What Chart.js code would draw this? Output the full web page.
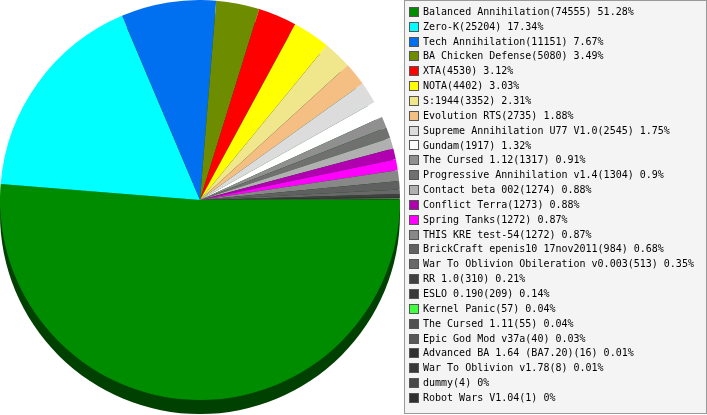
<!DOCTYPE html>
<html>
<head>
<meta charset="utf-8">
<script src="https://cdn.jsdelivr.net/npm/chart.js@4"></script>
<style>
    body { margin: 0; background: #fff; }
    #wrap { width: 707px; height: 415px; }
</style>
</head>
<body>
<div id="wrap"><canvas id="pie" width="707" height="415"></canvas></div>
<script>
// Game names, play counts and shares as printed in the legend
const games = [
    'Balanced Annihilation', 'Zero-K', 'Tech Annihilation', 'BA Chicken Defense',
    'XTA', 'NOTA', 'S:1944', 'Evolution RTS', 'Supreme Annihilation U77 V1.0',
    'Gundam', 'The Cursed 1.12', 'Progressive Annihilation v1.4', 'Contact beta 002',
    'Conflict Terra', 'Spring Tanks', 'THIS KRE test-54', 'BrickCraft epenis10 17nov2011',
    'War To Oblivion Obileration v0.003', 'RR 1.0', 'ESLO 0.190', 'Kernel Panic',
    'The Cursed 1.11', 'Epic God Mod v37a', 'Advanced BA 1.64 (BA7.20)',
    'War To Oblivion v1.78', 'dummy', 'Robot Wars V1.04'
];
const plays = [
    74555, 25204, 11151, 5080, 4530, 4402, 3352, 2735, 2545,
    1917, 1317, 1304, 1274, 1273, 1272, 1272, 984,
    513, 310, 209, 57, 55, 40, 16, 8, 4, 1
];
const shares = [
    '51.28%', '17.34%', '7.67%', '3.49%', '3.12%', '3.03%', '2.31%', '1.88%', '1.75%',
    '1.32%', '0.91%', '0.9%', '0.88%', '0.88%', '0.87%', '0.87%', '0.68%',
    '0.35%', '0.21%', '0.14%', '0.04%', '0.04%', '0.03%', '0.01%', '0.01%', '0%', '0%'
];
const colors = [
    '#008c00', '#00ffff', '#0070f0', '#6e8c00', '#ff0000', '#ffff00', '#f0e68c', '#f5be82', '#dcdcdc',
    '#ffffff', '#909090', '#707070', '#b0b0b0', '#b000b0', '#ff00ff', '#888888', '#606060',
    '#686868', '#404040', '#383838', '#40ff40', '#505050', '#585858', '#303030',
    '#383838', '#484848', '#303030'
];

// 3D-ish dark rim under the pie
const rimPlugin = {
    id: 'rim',
    beforeDatasetsDraw(chart) {
        const arc = chart.getDatasetMeta(0).data[0];
        if (!arc) return;
        const ctx = chart.ctx;
        ctx.save();
        ctx.fillStyle = '#004000';
        ctx.beginPath();
        ctx.arc(arc.x, arc.y + 14, arc.outerRadius, 0, Math.PI * 2);
        ctx.fill();
        ctx.restore();
    }
};

// Boxed legend on the right
const boxLegend = {
    id: 'boxLegend',
    afterDraw(chart) {
        const ctx = chart.ctx;
        const left = 404.5, top = 0.5, right = 706.5, bottom = 413.5;
        ctx.save();
        ctx.fillStyle = '#f4f4f4';
        ctx.fillRect(left, top, right - left, bottom - top);
        ctx.strokeStyle = '#999999';
        ctx.lineWidth = 1;
        ctx.strokeRect(left, top, right - left, bottom - top);

        ctx.font = '10px "DejaVu Sans Mono"';
        ctx.textBaseline = 'middle';
        const bg = chart.data.datasets[0].backgroundColor;
        chart.data.labels.forEach((label, i) => {
            const cy = 11.8 + i * 14.85;
            ctx.fillStyle = bg[i];
            ctx.fillRect(410, Math.round(cy) - 4, 8, 8);
            ctx.strokeStyle = '#555555';
            ctx.strokeRect(409.5, Math.round(cy) - 4.5, 9, 9);
            ctx.fillStyle = '#000000';
            ctx.fillText(label, 423, cy + 0.5);
        });
        ctx.restore();
    }
};

new Chart(document.getElementById('pie'), {
    type: 'pie',
    data: {
        labels: games.map((g, i) => `${g}(${plays[i]}) ${shares[i]}`),
        datasets: [{
            data: plays,
            backgroundColor: colors,
            borderWidth: 0
        }]
    },
    options: {
        responsive: false,
        animation: false,
        rotation: 90,
        layout: { padding: { left: 0, top: 0, right: 307, bottom: 15 } },
        plugins: {
            legend: { display: false },
            tooltip: { enabled: false }
        }
    },
    plugins: [rimPlugin, boxLegend]
});
</script>
</body>
</html>
